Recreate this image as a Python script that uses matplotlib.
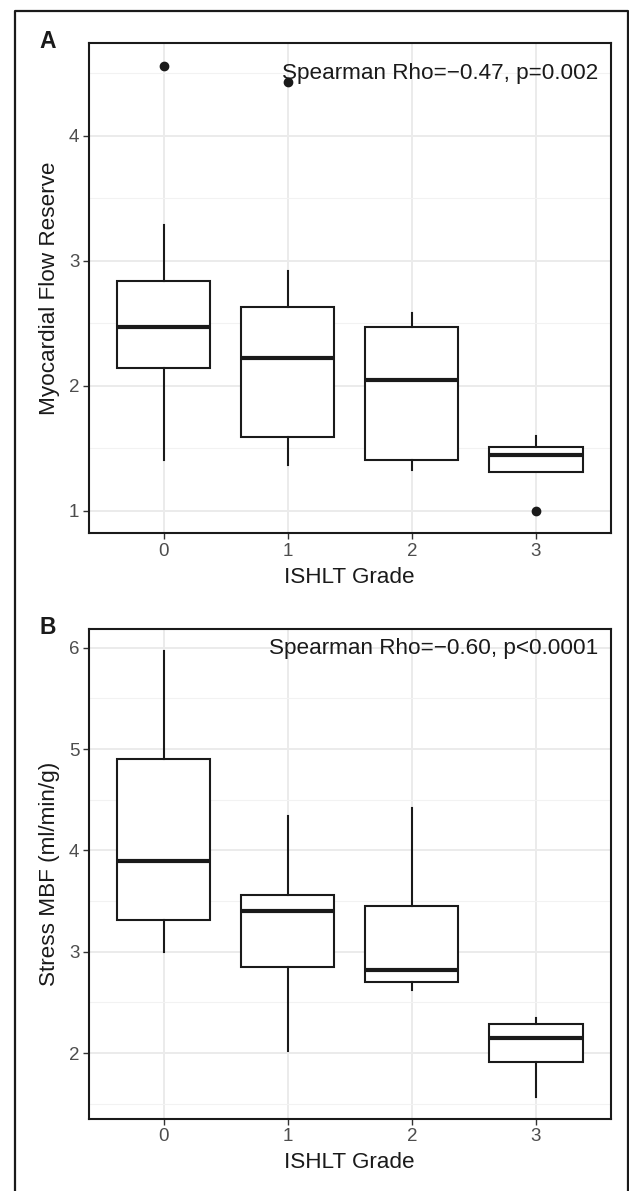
import matplotlib
matplotlib.use("Agg")
import matplotlib.pyplot as plt
from matplotlib.lines import Line2D

plt.rcParams['font.family'] = ['Liberation Sans', 'DejaVu Sans']

grades = [0, 1, 2, 3]
grade_labels = ["0", "1", "2", "3"]

# Panel A: Myocardial Flow Reserve
mfr_whislo = [1.41, 1.37, 1.33, 1.31]
mfr_q1 = [2.14, 1.59, 1.41, 1.31]
mfr_med = [2.47, 2.22, 2.05, 1.45]
mfr_q3 = [2.84, 2.63, 2.47, 1.51]
mfr_whishi = [3.29, 2.92, 2.58, 1.60]
mfr_fliers = [[4.56], [4.43], [], [1.00]]
mfr_ticks = [1, 2, 3, 4]
mfr_ylim = (0.824, 4.742)

# Panel B: Stress MBF
mbf_whislo = [3.00, 2.02, 2.62, 1.57]
mbf_q1 = [3.31, 2.85, 2.70, 1.91]
mbf_med = [3.90, 3.40, 2.82, 2.15]
mbf_q3 = [4.90, 3.56, 3.45, 2.29]
mbf_whishi = [5.97, 4.34, 4.42, 2.35]
mbf_fliers = [[], [], [], []]
mbf_ticks = [2, 3, 4, 5, 6]
mbf_ylim = (1.352, 6.185)

W, H = 629, 1191
fig = plt.figure(figsize=(W / 100, H / 100), dpi=100)

# outer frame (left, top, right)
fx0, fx1, fy = 15 / W, 628 / W, 1 - 11 / H
fig.add_artist(Line2D([fx0, fx0, fx1, fx1], [0, fy, fy, 0], transform=fig.transFigure,
                      color='#1a1a1a', lw=1.6))


def panel(rect, whislo, q1, med, q3, whishi, fliers, yticks, ylim, ylabel, note, note_y, letter, letter_y):
    ax = fig.add_axes(rect)
    stats = []
    for i in range(len(grades)):
        stats.append(dict(med=med[i], q1=q1[i], q3=q3[i], whislo=whislo[i],
                          whishi=whishi[i], fliers=fliers[i]))
    ax.bxp(stats, positions=grades, widths=0.75, showfliers=True, patch_artist=True,
           boxprops=dict(facecolor='white', edgecolor='#1a1a1a', linewidth=1.5),
           medianprops=dict(color='#1a1a1a', linewidth=3.0, solid_capstyle='butt'),
           whiskerprops=dict(color='#1a1a1a', linewidth=1.5),
           capprops=dict(linewidth=0),
           flierprops=dict(marker='o', markerfacecolor='#1a1a1a', markeredgecolor='#1a1a1a',
                           markersize=6.0),
           zorder=3)
    ax.set_xlim(-0.6, 3.6)
    ax.set_ylim(*ylim)
    ax.set_xticks(grades)
    ax.set_xticklabels(grade_labels)
    ax.set_yticks(yticks)
    ax.set_yticklabels([str(t) for t in yticks])
    minor = [t + 0.5 for t in range(int(ylim[0]) - 1, int(ylim[1]) + 1)]
    ax.set_yticks([m for m in minor if ylim[0] < m < ylim[1]], minor=True)
    ax.grid(True, which='major', color='#EBEBEB', linewidth=1.4, zorder=0)
    ax.grid(True, which='minor', axis='y', color='#F2F2F2', linewidth=0.8, zorder=0)
    ax.tick_params(axis='y', which='minor', length=0)
    ax.tick_params(axis='both', which='major', length=4, width=1.0, color='#333333',
                   labelsize=13.5, labelcolor='#4D4D4D', pad=3)
    ax.set_axisbelow(True)
    for s in ax.spines.values():
        s.set_color('#1a1a1a')
        s.set_linewidth(1.5)
    ax.set_xlabel("ISHLT Grade", fontsize=16.2, color='#1a1a1a', labelpad=5)
    ax.set_ylabel(ylabel, fontsize=16.2, color='#1a1a1a', labelpad=6)
    ax.text(3.5, note_y, note, ha='right', va='center', fontsize=16.2, color='#1a1a1a', zorder=5)
    fig.text(48 / W, 1 - letter_y / H, letter, ha='center', va='center', fontsize=16.5,
             fontweight='bold', color='#1a1a1a')
    return ax


panel([89 / W, 1 - 533 / H, (610.5 - 89) / W, (533 - 43) / H],
      mfr_whislo, mfr_q1, mfr_med, mfr_q3, mfr_whishi, mfr_fliers, mfr_ticks, mfr_ylim,
      "Myocardial Flow Reserve", "Spearman Rho=\u22120.47, p=0.002", 4.50, "A", 42)
panel([89 / W, 1 - 1118.7 / H, (610.5 - 89) / W, (1118.7 - 629) / H],
      mbf_whislo, mbf_q1, mbf_med, mbf_q3, mbf_whishi, mbf_fliers, mbf_ticks, mbf_ylim,
      "Stress MBF (ml/min/g)", "Spearman Rho=\u22120.60, p<0.0001", 5.99, "B", 627)

fig.savefig("out.png", dpi=100)
